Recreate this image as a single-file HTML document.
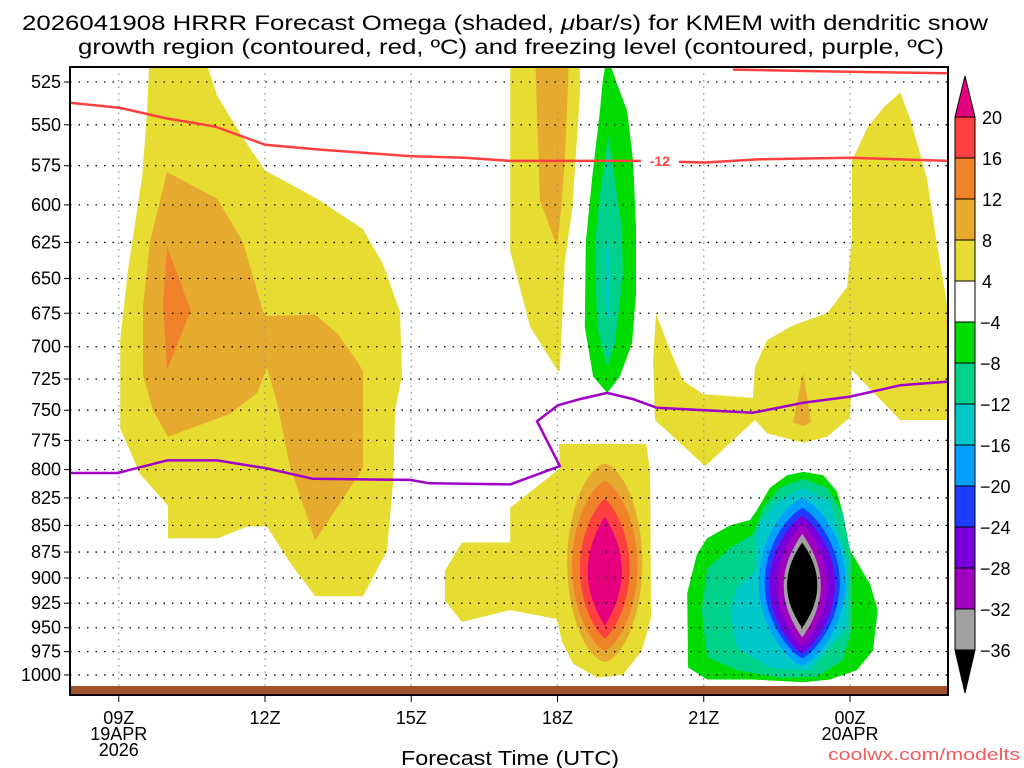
<!DOCTYPE html>
<html><head><meta charset="utf-8"><style>
html,body{margin:0;padding:0;background:#fff;}
svg{display:block;font-family:"Liberation Sans","DejaVu Sans",sans-serif;}
</style></head><body>
<svg id="chart" width="1024" height="768" viewBox="0 0 1024 768">
<defs><clipPath id="plotclip"><rect x="70" y="67" width="878" height="628"/></clipPath></defs>
<g font-size="21" fill="#000">
<text x="22" y="30" textLength="966" lengthAdjust="spacingAndGlyphs">2026041908 HRRR Forecast Omega (shaded, <tspan font-style="italic">μ</tspan>bar/s) for KMEM with dendritic snow</text>
<text x="78" y="54" textLength="866" lengthAdjust="spacingAndGlyphs">growth region (contoured, red, ºC) and freezing level (contoured, purple, ºC)</text>
</g>
<g id="fills" clip-path="url(#plotclip)"></g>
<g id="grid"></g>
<g id="lines" clip-path="url(#plotclip)"></g>
<rect x="70" y="686" width="878" height="9" fill="#a0522d"/>
<rect x="70" y="67" width="878" height="628" fill="none" stroke="#000" stroke-width="2"/>
<g id="yaxis" font-size="18"></g>
<g id="xaxis" font-size="18"></g>
<text x="510" y="765" font-size="20" text-anchor="middle" textLength="218" lengthAdjust="spacingAndGlyphs">Forecast Time (UTC)</text>
<text x="1020" y="760" font-size="17" fill="#f05a5a" text-anchor="end" textLength="192" lengthAdjust="spacingAndGlyphs">coolwx.com/modelts</text>
<g id="colorbar" font-size="18"></g>
</svg>
<script>
// ---- data ----
const pressureTicks = [525,550,575,600,625,650,675,700,725,750,775,800,825,850,875,900,925,950,975,1000];
const hourTicks = [1,4,7,10,13,16];
const hourLabels = ["09Z","12Z","15Z","18Z","21Z","00Z"];
const dateLabels = {0:["19APR","2026"],5:["20APR"]};
const cbLevels = [20,16,12,8,4,-4,-8,-12,-16,-20,-24,-28,-32,-36];
const cbColors = ["#ff4040","#f0822a","#e6aa2e","#e6dc32","#ffffff","#00dc00","#00d28c","#00c8c8","#00a0ff","#1e3cff","#7800dc","#a000c0","#a0a0a0"];
const levelColor = {y:"#e6dc32",g:"#e6aa2e",o:"#f0822a",r:"#ff4040",m:"#e6007f",gr:"#00dc00",t:"#00d28c",c:"#00c8c8",lb:"#00a0ff",b:"#1e3cff",pu:"#7800dc",v:"#a000c0",gy:"#a0a0a0",k:"#000000"};

const leftYellow = [[1.62,517],[2.83,517],[3.02,533],[3.55,558],[4.0,578],[5.07,596],[6.01,616],[6.42,640],[6.77,674],[6.81,722],[6.67,750],[6.63,810],[6.5,874],[6.01,918],[5.03,918],[4.51,885],[4.04,851],[3.63,851],[3.04,862],[2.01,862],[2.01,832],[1.44,804],[1.03,765],[1.03,695],[1.19,644],[1.48,582],[1.58,543]];
const leftGold = [[1.99,579],[3.02,596],[3.55,625],[3.96,674],[4.04,677],[5.03,676],[5.48,690],[5.89,711],[6.01,719],[6.01,799],[5.03,864],[4.51,797],[4.25,744],[4.04,716],[3.84,736],[3.28,753],[2.01,772],[1.7,750],[1.5,722],[1.5,669],[1.64,625]];
const leftOrange = [[1.99,628],[2.48,673],[1.99,718],[1.91,669]];
const topYellow = [[9.03,510],[10.46,510],[10.46,532],[10.3,604],[10.15,638],[10.05,718],[10.01,719],[9.44,685],[9.03,631]];
const topGold = [[9.54,510],[10.24,510],[10.15,572],[10.07,604],[9.99,628],[9.64,597]];
const upGreen = [[11.02,510],[11.22,526],[11.43,542],[11.55,572],[11.61,615],[11.61,661],[11.53,697],[11.28,723],[11.02,736],[10.73,723],[10.56,685],[10.58,625],[10.71,583],[10.87,542],[10.93,524]];
const upTeal = [[11.04,557],[11.32,615],[11.34,649],[11.18,697],[11.02,716],[10.81,685],[10.77,625],[10.87,593]];
const upCyan = [[11.02,617],[11.08,638],[11.06,677],[11.02,679],[10.97,650]];
const midYellow = [[10.03,778],[11.82,778],[11.9,801],[11.92,940],[11.73,974],[11.34,1000],[10.81,1003],[10.32,988],[10.09,964],[9.99,941],[9.03,932],[8.04,944],[7.69,922],[7.69,893],[8.04,866],[9.03,866],[9.03,834],[10.05,799]];
const rightYellow = [[11.96,710],[12.02,675],[12.27,699],[12.57,726],[12.98,737],[14.01,740],[14.05,716],[14.3,695],[14.83,684],[15.53,675],[15.94,656],[16.04,622],[16.04,572],[16.35,552],[16.68,540],[17.03,531],[17.23,546],[17.58,583],[17.78,625],[18.01,673],[18.01,758],[17.03,758],[16.04,718],[16.0,756],[15.53,772],[15.04,777],[14.3,769],[14.05,758],[13.03,797],[12.0,758]];
const rightSpike = [[15.04,720],[15.2,760],[15.04,763],[14.83,760]];
const lrGreen = [[15.04,802],[15.45,805],[15.73,819],[15.86,840],[16.0,873],[16.41,906],[16.57,932],[16.47,974],[16.14,995],[15.59,1005],[15.04,1008],[14.01,1005],[13.07,1005],[12.68,992],[12.66,915],[12.86,877],[13.07,862],[13.54,850],[13.95,845],[14.09,836],[14.36,816],[14.71,805]];
const lrTeal = [[15.04,808],[15.53,816],[15.86,840],[16.04,884],[16.04,950],[15.86,984],[15.32,1002],[14.56,1003],[13.68,995],[13.07,981],[12.96,932],[13.07,891],[13.54,871],[14.01,858],[14.22,834],[14.56,816]];
const lrCyan = [[15.04,816],[15.59,828],[15.94,884],[15.94,950],[15.18,995],[14.36,992],[13.68,971],[13.54,932],[13.68,910],[14.05,893],[14.09,852],[14.5,828]];
// lens cores: [level, centerHour, halfWidthHours, pTop, pBottom, pointiness]
const midCores = [["g",10.97,0.77,795,986,1.2],["o",10.97,0.67,810,974,1.4],["r",10.97,0.51,826,961,1.6],["m",10.97,0.35,842,948,2.0]];
const lrCores = [["lb",15.02,0.89,825,990,1.5],["b",15.02,0.77,834,982,1.6],["pu",15.02,0.67,841,977,1.7],["v",15.02,0.51,848,969,1.8],["gy",15.02,0.38,858,960,2.0],["k",15.02,0.31,866,950,2.0]];
const dgzLine = [[0,537],[1.03,540],[1.95,546],[2.97,551],[4.0,562],[5.13,565],[6.97,569],[8.1,570],[9.03,572],[11.69,572],[13.03,573],[14.15,571],[16.0,570],[18.0,572]];
const dgzTop = [[13.6,518],[15.5,519],[18,520]];
const freezeLine = [[0,803],[0.98,803],[1.99,792],[3.02,792],[4.04,799],[4.98,808],[6.97,809],[7.38,812],[9.03,813],[10.05,797],[9.58,759],[10.01,746],[10.46,741],[11.02,736],[11.55,741],[12.04,748],[14.01,752],[15.04,744],[16.0,739],[17.03,730],[18.01,727]];
const dgzLabel = {text:"-12", hour:12.1, p:572};

// ---- axes ----
const NS="http://www.w3.org/2000/svg";
function X(h){return 70+48.75*h;}
function Y(p){return 82+920.2*Math.log(p/525);}
function mk(tag,attrs,parent){const e=document.createElementNS(NS,tag);for(const k in attrs)e.setAttribute(k,attrs[k]);parent.appendChild(e);return e;}
function pts(arr){return arr.map(d=>X(d[0]).toFixed(1)+","+Y(d[1]).toFixed(1)).join(" ");}
const fills=document.getElementById("fills");
function region(arr,lvl,name){
  const e=mk("polygon",{points:pts(arr),fill:levelColor[lvl]},fills);
  
  
}
function lens(c,name){
  const xc=X(c[1]),rx=X(c[1]+c[2])-xc,yt=Y(c[3]),yb=Y(c[4]),cy=(yt+yb)/2,ry=(yb-yt)/2,k=c[5];
  const a=[];
  for(let i=0;i<72;i++){const t=i/72*2*Math.PI;const s=Math.sin(t);
    a.push((xc+rx*Math.sign(s)*Math.pow(Math.abs(s),k)).toFixed(1)+","+(cy-ry*Math.cos(t)).toFixed(1));}
  const e=mk("polygon",{points:a.join(" "),fill:levelColor[c[0]]},fills);
  
  
}
region(leftYellow,"y","left-omega-4");
region(leftGold,"g","left-omega-8");
region(leftOrange,"o","left-omega-12");
region(topYellow,"y","upper-omega-4");
region(topGold,"g","upper-omega-8");
region(upGreen,"gr","upper-omega-neg4");
region(upTeal,"t","upper-omega-neg8");
region(upCyan,"c","upper-omega-neg12");
region(midYellow,"y","middle-omega-4");
midCores.forEach((c,i)=>lens(c,"middle-omega-core-"+c[0]));
region(rightYellow,"y","right-omega-4");
region(rightSpike,"g","right-omega-8");
region(lrGreen,"gr","lower-right-omega-neg4");
region(lrTeal,"t","lower-right-omega-neg8");
region(lrCyan,"c","lower-right-omega-neg12");
lrCores.forEach((c,i)=>lens(c,"lower-right-omega-core-"+c[0]));

// grid and axes
const grid=document.getElementById("grid"),yax=document.getElementById("yaxis"),xax=document.getElementById("xaxis");
pressureTicks.forEach(p=>{
  const y=Y(p);
  const g=mk("line",{x1:70,x2:948,y1:y,y2:y,stroke:"#000","stroke-width":1.3,"stroke-dasharray":"1.5 7"},grid);
  
  
  const tk=mk("line",{x1:64,x2:70,y1:y,y2:y,stroke:"#000","stroke-width":1},yax);
  
  
  const t=mk("text",{x:61,y:y+6,"text-anchor":"end"},yax);
  t.textContent=p;
  
  
});
hourTicks.forEach((h,i)=>{
  const x=X(h);
  const g=mk("line",{x1:x,x2:x,y1:67,y2:695,stroke:"#999","stroke-width":1.3,"stroke-dasharray":"1.5 5"},grid);
  
  
  const tk=mk("line",{x1:x,x2:x,y1:695,y2:702,stroke:"#000","stroke-width":1},xax);
  
  
  const lines=[hourLabels[i]].concat(dateLabels[i]||[]);
  lines.forEach((s,j)=>{
    const t=mk("text",{x:x,y:724+j*16,"text-anchor":"middle"},xax);
    t.textContent=s;
    
    
  });
});

// contour lines
const ln=document.getElementById("lines");
function poly(arr,color,name){
  const e=mk("polyline",{points:pts(arr),fill:"none",stroke:color,"stroke-width":2.5,"stroke-linejoin":"round"},ln);
  
  
}
poly(dgzLine,"#ff4040","dgz-minus12-contour");
poly(dgzTop,"#ff4040","dgz-top-contour");
poly(freezeLine,"#a000c8","freezing-level-contour");
const lx=X(dgzLabel.hour),ly=Y(dgzLabel.p);
const bg=mk("rect",{x:lx-19,y:ly-8,width:38,height:16,fill:"#fff"},ln);


const lt=mk("text",{x:lx,y:ly+5,"text-anchor":"middle","font-size":14,"font-weight":"bold",fill:"#ff4040"},ln);
lt.textContent=dgzLabel.text;



// colorbar
const cb=document.getElementById("colorbar");
const cbTop=117,cbStep=41,cbX=955,cbW=20;
const tri=mk("polygon",{points:`${cbX},${cbTop} ${cbX+cbW},${cbTop} ${cbX+cbW/2},76`,fill:"#e6007f",stroke:"#000","stroke-width":1},cb);


cbColors.forEach((c,i)=>{
  const r=mk("rect",{x:cbX,y:cbTop+i*cbStep,width:cbW,height:cbStep,fill:c,stroke:"#000","stroke-width":1},cb);
  
  
});
const yEnd=cbTop+cbColors.length*cbStep;
const tri2=mk("polygon",{points:`${cbX},${yEnd} ${cbX+cbW},${yEnd} ${cbX+cbW/2},693`,fill:"#000",stroke:"#000","stroke-width":1},cb);


cbLevels.forEach((v,i)=>{
  const t=mk("text",{x:v<0?980:982,y:cbTop+i*cbStep+7},cb);
  t.textContent=v<0?"\u2212"+Math.abs(v):String(v);
  
  
});
</script>
</body></html>
